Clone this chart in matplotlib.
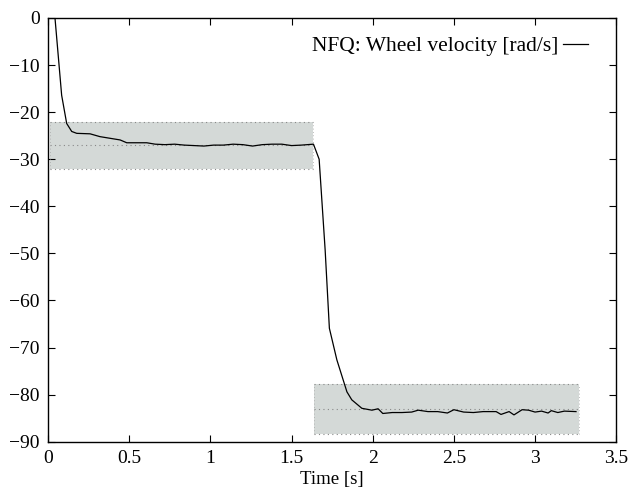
import numpy as np
from matplotlib import pyplot as plt

plt.rcParams['font.family'] = ['Liberation Serif', 'DejaVu Serif']
plt.rcParams['font.size'] = 12

# wheel velocity trace
t = [0.043, 0.084, 0.115, 0.146, 0.177, 0.259, 0.320, 0.444, 0.485,
     0.608, 0.66, 0.72, 0.78, 0.84, 0.90, 0.96, 1.02, 1.08, 1.14, 1.20,
     1.26, 1.32, 1.38, 1.44, 1.50, 1.56, 1.635, 1.670, 1.707, 1.733, 1.779,
     1.841, 1.871, 1.933, 1.995, 2.033, 2.062, 2.12, 2.18, 2.24, 2.28, 2.34,
     2.40, 2.46, 2.50, 2.56, 2.62, 2.68, 2.76, 2.79, 2.84, 2.87, 2.92, 2.96,
     3.00, 3.04, 3.08, 3.10, 3.14, 3.18, 3.252]
v = [0, -16.4, -22.4, -24.1, -24.5, -24.6, -25.2, -25.9, -26.5,
     -26.5, -26.8, -26.9, -26.8, -27.0, -27.1, -27.2, -27.0, -27.0, -26.8,
     -26.9, -27.2, -26.9, -26.8, -26.8, -27.1, -27.0, -26.8, -30.0, -49.3,
     -65.9, -72.6, -79.4, -81.1, -82.9, -83.3, -83.0, -84.0, -83.8, -83.8,
     -83.7, -83.3, -83.6, -83.6, -83.9, -83.2, -83.7, -83.8, -83.6, -83.6,
     -84.2, -83.6, -84.3, -83.2, -83.3, -83.7, -83.5, -83.9, -83.4, -83.8,
     -83.5, -83.6]

# target bands: (t_start, t_end, target, half width)
band_start = [0.012, 1.639]
band_end = [1.635, 3.27]
band_target = [-27, -83]
band_half = [5, 5.3]

fig = plt.figure(figsize=(6.3, 4.93), dpi=100)
ax = fig.add_axes([0.0762, 0.104, 0.902, 0.8595])

for x0, x1, c, h in zip(band_start, band_end, band_target, band_half):
    ax.fill_between([x0, x1], c - h, c + h, color='#d4d9d7', lw=0, zorder=1)
    for yy in (c - h, c, c + h):
        ax.plot([x0, x1], [yy, yy], ls=(0, (1, 3)), color='#888888', lw=0.8, zorder=2)
    for xx in (x0, x1):
        ax.plot([xx, xx], [c - h, c + h], ls=(0, (1, 3)), color='#aaaaaa', lw=0.6, zorder=2)

ax.plot(t, v, color='black', lw=0.9, zorder=3, label='NFQ: Wheel velocity [rad/s]')

ax.set_xlim(0, 3.5)
ax.set_ylim(-90, 0)
ax.set_xticks(np.arange(0, 3.51, 0.5))
ax.set_xticklabels(['0', '0.5', '1', '1.5', '2', '2.5', '3', '3.5'])
ax.set_yticks(np.arange(-90, 1, 10))
ax.set_yticklabels(['\u221290', '\u221280', '\u221270', '\u221260', '\u221250',
                    '\u221240', '\u221230', '\u221220', '\u221210', '0'])
ax.tick_params(direction='in', top=True, right=True, length=5, width=0.8,
               labelsize=14, pad=6)
for s in ax.spines.values():
    s.set_linewidth(1.0)
ax.set_xlabel('Time [s]', fontsize=13.5, labelpad=3)

ax.legend(loc='upper right', frameon=False, markerfirst=False, fontsize=15.5,
          handlelength=1.2, handletextpad=0.2, borderpad=0, borderaxespad=0,
          bbox_to_anchor=(0.951, 0.957))

fig.savefig('out.png', dpi=100)
